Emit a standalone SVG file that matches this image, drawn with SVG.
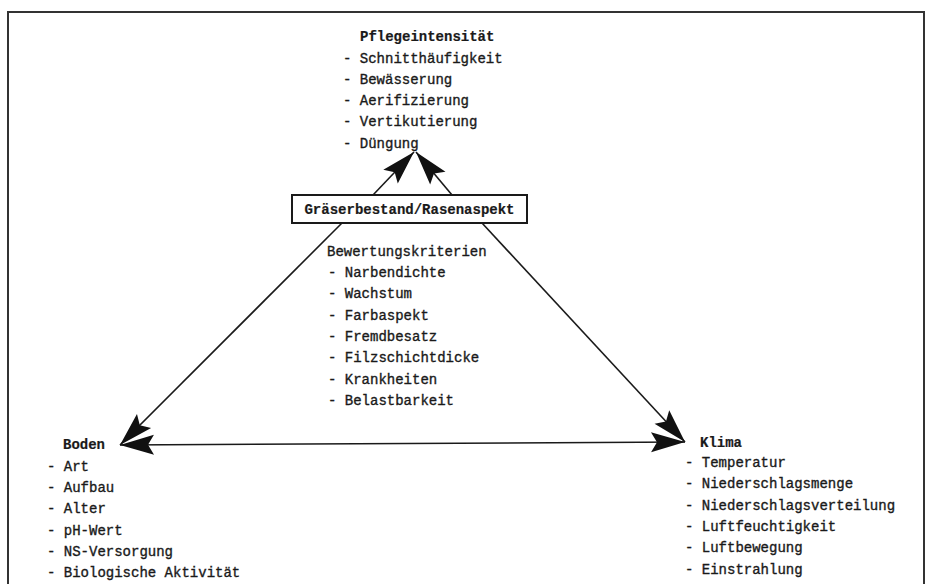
<svg xmlns="http://www.w3.org/2000/svg" width="930" height="584" viewBox="0 0 930 584">
<style>
text{font-family:"Liberation Mono","Courier New",monospace;font-size:14px;fill:#1a1a1a;stroke:#1a1a1a;stroke-width:0.35}
.h{font-weight:bold;stroke-width:0.2}
.line{stroke:#1a1a1a;stroke-width:1.6;fill:none}
</style>
<defs>
<marker id="ah" markerUnits="userSpaceOnUse" viewBox="-2 -12 38 24" refX="34" refY="0" markerWidth="38" markerHeight="24" orient="auto-start-reverse">
<path d="M0,-10 L34,0 L0,10 L6,0 Z" fill="#111"/>
</marker>
</defs>
<rect id="frame" x="8" y="12" width="916" height="580" fill="none" stroke="#333" stroke-width="2"/>
<g id="connectors">
<line class="line" x1="373" y1="195" x2="414" y2="152" marker-end="url(#ah)"/>
<line class="line" x1="452" y1="195" x2="416" y2="152" marker-end="url(#ah)"/>
<line class="line" x1="342" y1="223" x2="120" y2="445" marker-end="url(#ah)"/>
<line class="line" x1="482" y1="223" x2="685" y2="442" marker-end="url(#ah)"/>
<line class="line" x1="120" y1="445" x2="685" y2="442" marker-start="url(#ah)" marker-end="url(#ah)"/>
</g>
<g id="pflege">
<text class="h" x="360" y="41">Pflegeintensität</text>
<text x="343" y="63">- Schnitthäufigkeit</text>
<text x="343" y="84">- Bewässerung</text>
<text x="343" y="105">- Aerifizierung</text>
<text x="343" y="126">- Vertikutierung</text>
<text x="343" y="148">- Düngung</text>
</g>
<g id="rasen">
<rect x="292" y="195" width="235" height="28" fill="#fff" stroke="#1a1a1a" stroke-width="2"/>
<text class="h" x="409.5" y="214" text-anchor="middle">Gräserbestand/Rasenaspekt</text>
</g>
<g id="bewertung">
<text x="327" y="256">Bewertungskriterien</text>
<text x="328" y="277">- Narbendichte</text>
<text x="328" y="298">- Wachstum</text>
<text x="328" y="320">- Farbaspekt</text>
<text x="328" y="341">- Fremdbesatz</text>
<text x="328" y="362">- Filzschichtdicke</text>
<text x="328" y="384">- Krankheiten</text>
<text x="328" y="405">- Belastbarkeit</text>
</g>
<g id="boden">
<text class="h" x="63" y="449">Boden</text>
<text x="47" y="471">- Art</text>
<text x="47" y="492">- Aufbau</text>
<text x="47" y="513">- Alter</text>
<text x="47" y="535">- pH-Wert</text>
<text x="47" y="556">- NS-Versorgung</text>
<text x="47" y="577">- Biologische Aktivität</text>
</g>
<g id="klima">
<text class="h" x="700" y="447">Klima</text>
<text x="685" y="467">- Temperatur</text>
<text x="685" y="488">- Niederschlagsmenge</text>
<text x="685" y="510">- Niederschlagsverteilung</text>
<text x="685" y="531">- Luftfeuchtigkeit</text>
<text x="685" y="552">- Luftbewegung</text>
<text x="685" y="574">- Einstrahlung</text>
</g>
</svg>
